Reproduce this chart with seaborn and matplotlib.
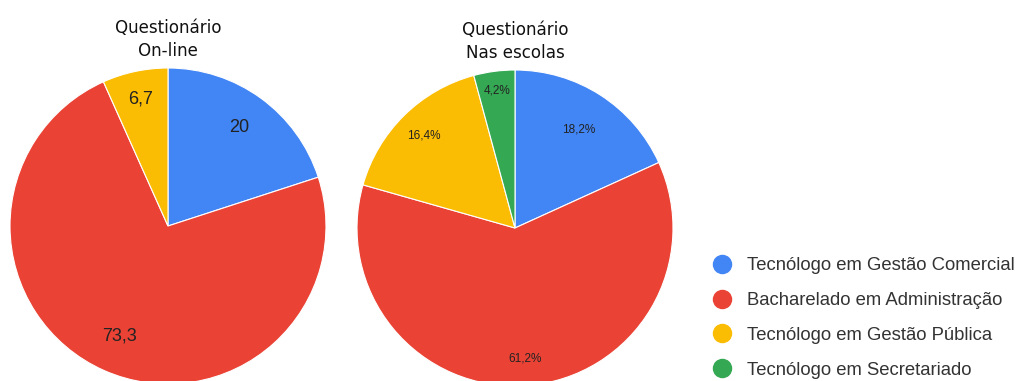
import numpy as np
import matplotlib.pyplot as plt
from matplotlib.lines import Line2D
import seaborn as sns

# data
categories = ['Tecnólogo em Gestão Comercial', 'Bacharelado em Administração',
              'Tecnólogo em Gestão Pública', 'Tecnólogo em Secretariado']
online_values = [20, 73.3, 6.7]
online_labels = ['20', '73,3', '6,7']
escolas_values = [18.2, 61.2, 16.4, 4.2]
escolas_labels = ['18,2%', '61,2%', '16,4%', '4,2%']
titles = ['Questionário\nOn-line', 'Questionário\nNas escolas']

sns.set_theme(style='white')
plt.rcParams['font.family'] = ['Roboto', 'DejaVu Sans']
palette = sns.color_palette(['#4285F4', '#EA4335', '#FBBC04', '#34A853'])

fig = plt.figure(figsize=(10.21, 3.81), dpi=100)
W, H = 1021, 381

def draw_pie(left, top, size, values, labels, title, dists, fs):
    ax = fig.add_axes([left / W, (H - top - size) / H, size / W, size / H])
    wedges, texts = ax.pie(values, labels=labels, colors=palette[:len(values)],
                           startangle=90, counterclock=False, labeldistance=1.0,
                           wedgeprops=dict(linewidth=0.8, edgecolor='white'),
                           textprops=dict(fontsize=fs, color='#222222',
                                          family=['Liberation Sans', 'DejaVu Sans']))
    for t, d in zip(texts, dists):
        x, y = t.get_position()
        t.set_position((x * d, y * d))
        t.set_ha('center')
        t.set_va('center')
    ax.set_xlim(-1, 1)
    ax.set_ylim(-1, 1)
    ax.set_aspect('equal')
    ax.set_title(title, fontsize=13.3, pad=9, linespacing=1.3,
                 family='DejaVu Sans', fontstretch='condensed', color='#111111')
    return ax

draw_pie(10, 68, 316, online_values, online_labels, titles[0], [0.77, 0.76, 0.82], 13)
draw_pie(357, 70, 316, escolas_values, escolas_labels, titles[1], [0.74, 0.83, 0.82, 0.88], 8.5)

handles = [Line2D([0], [0], marker='o', linestyle='', markersize=13,
                  markerfacecolor=c, markeredgecolor=c) for c in palette]
leg = fig.legend(handles, categories, loc='center left', bbox_to_anchor=(704 / W, 1 - 318 / H),
                 frameon=False, handletextpad=0.75, labelspacing=0.97,
                 prop=dict(family=['Liberation Sans', 'DejaVu Sans'], size=13.3),
                 handlelength=1.2, borderaxespad=0)
for t in leg.get_texts():
    t.set_color('#333333')

fig.savefig('out.png', dpi=100)
